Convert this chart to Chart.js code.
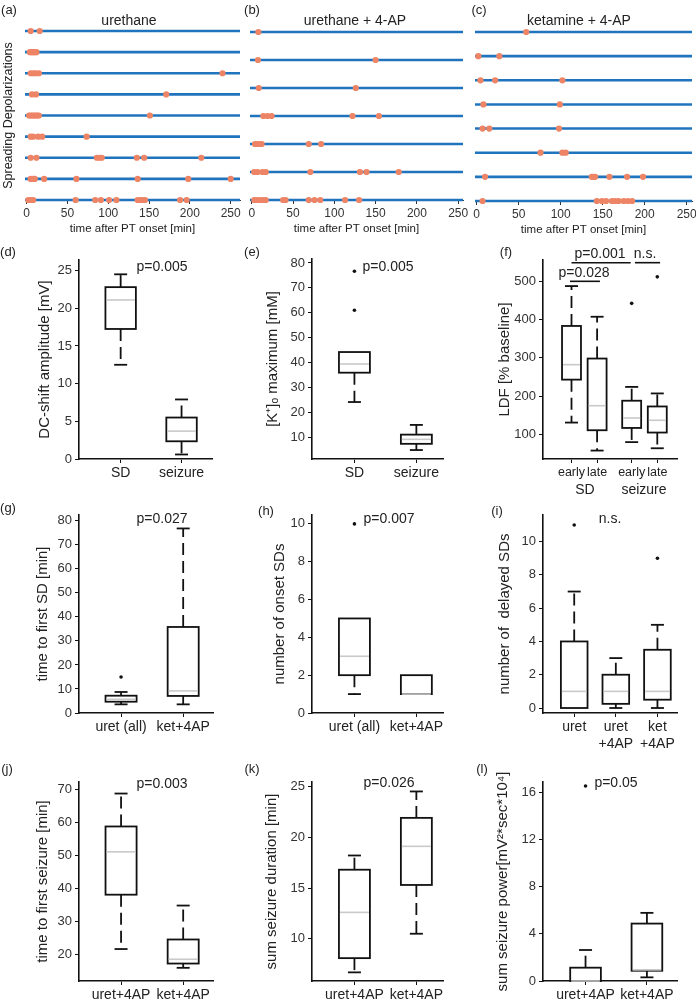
<!DOCTYPE html>
<html>
<head>
<meta charset="utf-8">
<script src="https://cdn.jsdelivr.net/npm/chart.js@4.4.1/dist/chart.umd.min.js"></script>
<style>
  html, body { margin: 0; padding: 0; background: #fff; }
  #fig { position: relative; width: 696px; height: 1004px; overflow: hidden;
         font-family: "Liberation Sans", Arial, Helvetica, sans-serif; color: #222; }
  #fig canvas { position: absolute; }
  .txt { position: absolute; width: 200px; text-align: center; white-space: pre;
         font-size: 14px; line-height: 1; color: #222; }
</style>
</head>
<body>
<div id="fig"></div>
<script>
"use strict";

// ---- (a)-(c): SD onset times [min] per animal, one row per animal ----
const minuteStep = 50;
const urethaneSD = [
    [5, 16],
    [4, 6, 8, 10, 12],
    [5, 8, 11, 15, 240],
    [6.5, 11.5, 171],
    [3, 5, 7, 9, 11, 13, 15, 151],
    [5, 8, 14, 19, 73.5],
    [5, 12, 86, 89, 92, 135, 144, 214],
    [5, 8, 10, 21.5, 61, 136, 198, 250],
    [2, 5, 8, 60, 84, 91, 101, 110, 136, 139, 142, 145, 188, 196],
];
const urethane4apSD = [
    [8],
    [7.5, 150],
    [8.5, 126],
    [14, 19, 24, 122, 154],
    [4, 7, 9, 12, 69, 84],
    [3, 7, 13, 17, 71, 131, 139, 178],
    [3, 6, 10, 14, 17, 38, 41, 69, 76, 83, 113, 130],
];
const ketamine4apSD = [
    [59],
    [2, 27],
    [4.5, 22, 102],
    [8, 99],
    [7, 15, 98],
    [76, 102, 106],
    [10, 137, 139, 141, 158, 179, 198],
    [7, 143, 149, 154, 161, 165, 169, 175, 180, 185],
];

// ---- box plots: [lower whisker, q1, median, q3, upper whisker] ----
const dLabels = ["SD", "seizure"];
const dBoxes = [[12.5, 17.25, 21.1, 22.8, 24.5], [0.6, 2.35, 3.7, 5.5, 7.9]];
const dOutliers = [[], []];

const eLabels = ["SD", "seizure"];
const eBoxes = [[24.1, 35.9, 39.4, 44.2, 44.2], [4.8, 7.3, 9.1, 11.0, 14.9]];
const eOutliers = [[61, 76.7], []];

const fLabels = ["early", "late", "early", "late"];
const fGroups = ["SD", "seizure"];
const fBoxes = [
    [131, 243, 282, 383, 487],
    [58, 111, 175, 298, 407],
    [80, 117, 143, 188, 224],
    [64, 105, 137, 173, 207],
];
const fOutliers = [[], [], [442], [511]];

const gLabels = ["uret (all)", "ket+4AP"];
const gBoxes = [[3.6, 4.7, 5.7, 7.2, 8.75], [3.6, 7.1, 9.2, 35.8, 76.8]];
const gOutliers = [[15], []];

const hLabels = ["uret (all)", "ket+4AP"];
const hBoxes = [[1, 2, 3, 5, 5], [1, 1, 1, 2, 2]];
const hOutliers = [[10], []];

const iLabels = [["uret"], ["uret", "+4AP"], ["ket", "+4AP"]];
const iBoxes = [[0, 0, 1, 4, 7], [0, 0.25, 1, 2, 3], [0, 0.5, 1, 3.5, 5]];
const iOutliers = [[11], [], [9]];

const jLabels = ["uret+4AP", "ket+4AP"];
const jBoxes = [[21.6, 38.1, 51.1, 58.8, 68.8], [15.9, 17.2, 18.5, 24.5, 34.8]];
const jOutliers = [[], []];

const kLabels = ["uret+4AP", "ket+4AP"];
const kBoxes = [[6.7, 8.1, 12.6, 16.8, 18.2], [10.5, 15.3, 19.1, 21.9, 24.5]];
const kOutliers = [[], []];

const lLabels = ["uret+4AP", "ket+4AP"];
const lBoxes = [[0, 0, 0, 1.13, 2.63], [0.31, 0.87, 0.94, 4.87, 5.78]];
const lOutliers = [[16.54], []];

// ---- styling ----
const fig = document.getElementById("fig");
const FONT = '"Liberation Sans", Arial, Helvetica, sans-serif';
const BLUE = "#1f74bd";
const DOT = "#ee8466";
Chart.defaults.font.family = FONT;
Chart.defaults.color = "#333";

const PAD_TOP = 20, PAD_RIGHT = 22;

// text centred on (x, y)
const addText = (text, x, y, size) => {
    const fs = size || 14;
    const d = document.createElement("div");
    d.className = "txt";
    d.textContent = text;
    d.style.left = Math.round(x - 100) + "px";
    d.style.top = Math.round(y - fs / 2) + "px";
    d.style.fontSize = fs + "px";
    fig.appendChild(d);
};

// canvas sized so that the chart area lands on area {L,R,T,B}
const makeCanvas = (area, yw, xh) => {
    const c = document.createElement("canvas");
    const w = Math.round(yw + area.R - area.L + PAD_RIGHT);
    const h = Math.round(PAD_TOP + area.B - area.T + xh);
    c.width = w;
    c.height = h;
    c.style.width = w + "px";
    c.style.height = h + "px";
    c.style.left = Math.round(area.L - yw) + "px";
    c.style.top = Math.round(area.T - PAD_TOP) + "px";
    fig.appendChild(c);
    return c.getContext("2d");
};

const baseOptions = () => ({
    responsive: false,
    animation: false,
    devicePixelRatio: 1,
    events: [],
    layout: { padding: { top: PAD_TOP, right: PAD_RIGHT, left: 0, bottom: 0 } },
    plugins: { legend: { display: false }, tooltip: { enabled: false } },
});

// ---- raster panels (a)-(c) ----
const timeline = (area, rows, xMin, xMax, yTitle) => {
    const yw = yTitle ? 26 : 10;
    const xh = 40;
    const ctx = makeCanvas(area, yw, xh);
    const points = [];
    rows.forEach((times, r) => times.forEach((t) => points.push({ x: t, y: r + 1 })));
    const lines = rows.map((_, r) => ({
        data: [{ x: xMin, y: r + 1 }, { x: xMax, y: r + 1 }],
        showLine: true,
        borderColor: BLUE,
        borderWidth: 2.6,
        pointRadius: 0,
        clip: false,
    }));
    const opts = baseOptions();
    opts.scales = {
        x: {
            type: "linear",
            min: xMin,
            max: xMax,
            ticks: { stepSize: minuteStep, includeBounds: false, font: { size: 12 }, color: "#333", padding: 2 },
            grid: { drawOnChartArea: false, tickLength: 4, color: "#333" },
            border: { display: true, color: "#333", width: 1 },
            title: { display: true, text: "time after PT onset [min]", font: { size: 11.5 }, color: "#222" },
            afterFit: (s) => { s.height = xh; },
        },
        y: {
            type: "linear",
            min: 1,
            max: rows.length,
            reverse: true,
            ticks: { display: false },
            grid: { display: false },
            border: { display: false },
            title: { display: !!yTitle, text: yTitle || "", font: { size: 12.5 }, color: "#222", padding: { top: 2, bottom: 0 } },
            afterFit: (s) => { s.width = yw; },
        },
    };
    new Chart(ctx, {
        type: "scatter",
        data: {
            datasets: [
                { data: points, pointRadius: 3.1, backgroundColor: DOT, borderWidth: 0, clip: false },
                ...lines,
            ],
        },
        options: opts,
    });
};

// ---- box plot panels ----
const boxPlugin = (pos, boxes, width) => ({
    id: "boxes",
    afterDatasetsDraw(chart) {
        const { ctx } = chart;
        const xs = chart.scales.x, ys = chart.scales.y;
        const py = (v) => ys.getPixelForValue(v);
        ctx.save();
        ctx.lineWidth = 1.8;
        ctx.strokeStyle = "#111";
        boxes.forEach((b, i) => {
            const [lo, q1, med, q3, hi] = b;
            const xc = xs.getPixelForValue(pos[i]);
            const x0 = xs.getPixelForValue(pos[i] - width / 2);
            const x1 = xs.getPixelForValue(pos[i] + width / 2);
            // whiskers (dashed) + caps
            [[q3, hi], [q1, lo]].forEach(([from, to]) => {
                if (from === to) return;
                ctx.strokeStyle = "#111";
                ctx.setLineDash([12, 6]);
                ctx.beginPath();
                ctx.moveTo(xc, py(from));
                ctx.lineTo(xc, py(to));
                ctx.stroke();
                ctx.setLineDash([]);
                ctx.beginPath();
                ctx.moveTo(xc - 6.5, py(to));
                ctx.lineTo(xc + 6.5, py(to));
                ctx.stroke();
            });
            // box
            ctx.strokeStyle = "#111";
            ctx.strokeRect(x0, py(q3), x1 - x0, py(q1) - py(q3));
            // median
            ctx.strokeStyle = "#c9c9c9";
            ctx.lineWidth = 1.6;
            ctx.beginPath();
            ctx.moveTo(x0 + 1, py(med));
            ctx.lineTo(x1 - 1, py(med));
            ctx.stroke();
            ctx.lineWidth = 1.8;
        });
        ctx.restore();
    },
});

// significance bars drawn in data coordinates: [x from, x to, y]
const barsPlugin = (bars) => ({
    id: "sigbars",
    afterDatasetsDraw(chart) {
        const { ctx } = chart;
        const xs = chart.scales.x, ys = chart.scales.y;
        ctx.save();
        ctx.lineWidth = 1.6;
        ctx.strokeStyle = "#111";
        bars.forEach(([a, b, y]) => {
            ctx.beginPath();
            ctx.moveTo(xs.getPixelForValue(a), ys.getPixelForValue(y));
            ctx.lineTo(xs.getPixelForValue(b), ys.getPixelForValue(y));
            ctx.stroke();
        });
        ctx.restore();
    },
});

const boxChart = (p) => {
    const yw = p.area.L - p.titleX + 13;
    const xh = 45;
    const ctx = makeCanvas(p.area, yw, xh);
    const outPts = [];
    p.outliers.forEach((vals, i) => vals.forEach((v) => outPts.push({ x: p.pos[i], y: v })));
    const opts = baseOptions();
    opts.scales = {
        x: {
            type: "linear",
            min: p.xRange[0],
            max: p.xRange[1],
            afterBuildTicks: (s) => { s.ticks = p.pos.map((v) => ({ value: v })); },
            ticks: {
                callback: (v, i) => p.labels[i],
                autoSkip: false,
                maxRotation: 0,
                font: { size: p.xFont || 14 },
                color: "#222",
                padding: 2,
            },
            grid: { drawOnChartArea: false, tickLength: 4, color: "#111" },
            border: { display: true, color: "#111", width: 1.6 },
            afterFit: (s) => { s.height = xh; },
        },
        y: {
            type: "linear",
            min: p.yRange[0],
            max: p.yRange[1],
            ticks: { stepSize: p.step, includeBounds: false, font: { size: 13 }, color: "#333", padding: 3 },
            grid: { drawOnChartArea: false, tickLength: 4, color: "#111" },
            border: { display: true, color: "#111", width: 1.6 },
            title: { display: true, text: p.yTitle, font: { size: 15 }, color: "#222" },
            afterFit: (s) => { s.width = yw; },
        },
    };
    new Chart(ctx, {
        type: "scatter",
        data: {
            datasets: [
                { data: outPts, pointRadius: 1.8, backgroundColor: "#111", borderWidth: 0, clip: false },
            ],
        },
        options: opts,
        plugins: [boxPlugin(p.pos, p.boxes, p.width), ...(p.bars ? [barsPlugin(p.bars)] : [])],
    });
};

// ---- top row ----
timeline({ L: 25, R: 240, T: 31, B: 200 }, urethaneSD, -2, 261.4, "Spreading Depolarizations");
timeline({ L: 250, R: 463, T: 32, B: 200 }, urethane4apSD, -2.1, 255.8);
timeline({ L: 475, R: 692, T: 32, B: 201 }, ketamine4apSD, -2, 256.3);

// ---- box panels ----
boxChart({ area: { L: 79, R: 212, T: 260, B: 459 }, titleX: 45, xRange: [0.316, 2.5], yRange: [0, 26.4], step: 5,
    pos: [1, 2], labels: dLabels, boxes: dBoxes, outliers: dOutliers, width: 0.5, yTitle: "DC-shift amplitude [mV]" });
boxChart({ area: { L: 312, R: 443, T: 259, B: 459 }, titleX: 273, xRange: [0.315, 2.43], yRange: [1.2, 81.6], step: 10,
    pos: [1, 2], labels: eLabels, boxes: eBoxes, outliers: eOutliers, width: 0.5, yTitle: "[K\u207A]\u2092 maximum [mM]" });
boxChart({ area: { L: 543, R: 677, T: 260, B: 459 }, titleX: 505, xRange: [-0.113, 5.12], yRange: [36, 555], step: 100,
    pos: [1, 2, 3.35, 4.35], labels: fLabels, boxes: fBoxes, outliers: fOutliers, width: 0.74, yTitle: "LDF [% baseline]",
    xFont: 12.5, bars: [[1.0, 3.31, 548], [3.48, 4.46, 548], [0.94, 2.11, 499.4]] });
boxChart({ area: { L: 79, R: 213, T: 515, B: 713 }, titleX: 43, xRange: [0.323, 2.48], yRange: [0, 82.4], step: 10,
    pos: [1, 2], labels: gLabels, boxes: gBoxes, outliers: gOutliers, width: 0.5, yTitle: "time to first SD [min]" });
boxChart({ area: { L: 312, R: 443, T: 515, B: 713 }, titleX: 280, xRange: [0.315, 2.43], yRange: [0, 10.47], step: 2,
    pos: [1, 2], labels: hLabels, boxes: hBoxes, outliers: hOutliers, width: 0.5, yTitle: "number of onset SDs" });
boxChart({ area: { L: 543, R: 677, T: 515, B: 713 }, titleX: 505, xRange: [0.25, 3.47], yRange: [-0.3, 11.6], step: 2,
    pos: [1, 2, 3], labels: iLabels, boxes: iBoxes, outliers: iOutliers, width: 0.64, yTitle: "number of  delayed SDs" });
boxChart({ area: { L: 79, R: 213, T: 782, B: 981 }, titleX: 43, xRange: [0.323, 2.48], yRange: [11.9, 72.3], step: 10,
    pos: [1, 2], labels: jLabels, boxes: jBoxes, outliers: jOutliers, width: 0.5, yTitle: "time to first seizure [min]" });
boxChart({ area: { L: 312, R: 443, T: 782, B: 981 }, titleX: 272, xRange: [0.315, 2.43], yRange: [5.85, 25.43], step: 5,
    pos: [1, 2], labels: kLabels, boxes: kBoxes, outliers: kOutliers, width: 0.5, yTitle: "sum seizure duration [min]" });
boxChart({ area: { L: 543, R: 677, T: 782, B: 981 }, titleX: 503, xRange: [0.307, 2.49], yRange: [0, 16.88], step: 4,
    pos: [1, 2], labels: lLabels, boxes: lBoxes, outliers: lOutliers, width: 0.5, yTitle: "sum seizure power[mV\u00B2*sec*10\u2074]" });

// ---- free text: panel letters, titles, p-values, group labels ----
addText("(a)", 9, 9, 13);
addText("(b)", 252, 9, 13);
addText("(c)", 479, 9, 13);
addText("urethane", 129, 20);
addText("urethane + 4-AP", 355, 20);
addText("ketamine + 4-AP", 579, 20);

addText("(d)", 8, 251, 13);
addText("(e)", 252, 251, 13);
addText("(f)", 506, 251, 13);
addText("p=0.005", 162, 266);
addText("p=0.005", 388, 266);
addText("p=0.001", 600, 253);
addText("n.s.", 645, 253);
addText("p=0.028", 584, 272);
addText(fGroups[0], 584.5, 489);
addText(fGroups[1], 643.7, 489);

addText("(g)", 8, 507, 13);
addText("(h)", 266, 510, 13);
addText("(i)", 497, 510, 13);
addText("p=0.027", 162, 518);
addText("p=0.007", 389, 518);
addText("n.s.", 610, 518);

addText("(j)", 7, 768, 13);
addText("(k)", 252, 768, 13);
addText("(l)", 482, 768, 13);
addText("p=0.003", 162, 783);
addText("p=0.026", 389, 782);
addText("p=0.05", 616, 782);
</script>
</body>
</html>
